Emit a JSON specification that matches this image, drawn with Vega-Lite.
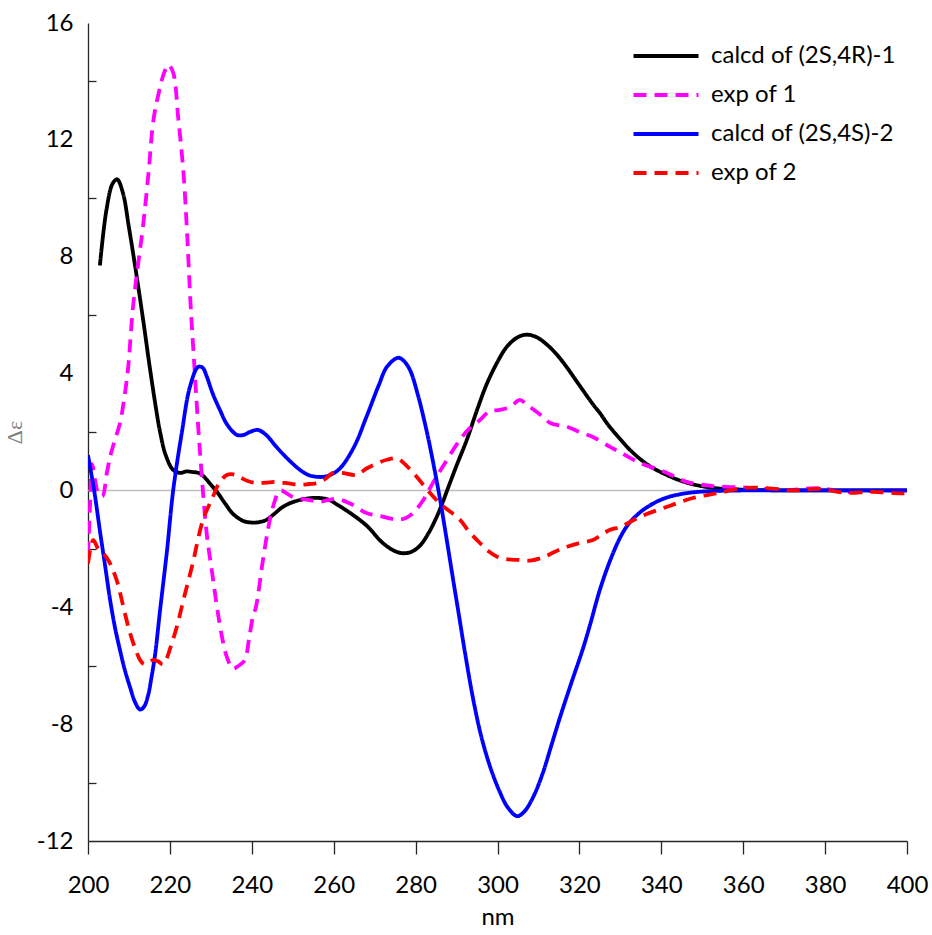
{
  "$schema": "https://vega.github.io/schema/vega-lite/v6.json",
  "width": 819,
  "height": 818,
  "autosize": {"type": "none"},
  "padding": {"left": 88, "top": 23, "right": 25, "bottom": 94},
  "background": "white",
  "config": {"view": {"stroke": null}, "font": "Lato"},
  "datasets": {
    "cd": [
      {"s": "calcd of (2S,4R)-1", "x": 202.9, "y": 7.7},
      {"s": "calcd of (2S,4R)-1", "x": 204.5, "y": 9.6},
      {"s": "calcd of (2S,4R)-1", "x": 206, "y": 10.5},
      {"s": "calcd of (2S,4R)-1", "x": 207.1, "y": 10.65},
      {"s": "calcd of (2S,4R)-1", "x": 208.5, "y": 10.2},
      {"s": "calcd of (2S,4R)-1", "x": 210, "y": 9.0},
      {"s": "calcd of (2S,4R)-1", "x": 211.7, "y": 7.5},
      {"s": "calcd of (2S,4R)-1", "x": 213.4, "y": 5.9},
      {"s": "calcd of (2S,4R)-1", "x": 215.1, "y": 4.2},
      {"s": "calcd of (2S,4R)-1", "x": 216.5, "y": 2.9},
      {"s": "calcd of (2S,4R)-1", "x": 217.6, "y": 2.0},
      {"s": "calcd of (2S,4R)-1", "x": 219, "y": 1.2},
      {"s": "calcd of (2S,4R)-1", "x": 220.8, "y": 0.7},
      {"s": "calcd of (2S,4R)-1", "x": 222.5, "y": 0.6},
      {"s": "calcd of (2S,4R)-1", "x": 224, "y": 0.65},
      {"s": "calcd of (2S,4R)-1", "x": 225.6, "y": 0.63},
      {"s": "calcd of (2S,4R)-1", "x": 227, "y": 0.6},
      {"s": "calcd of (2S,4R)-1", "x": 228.1, "y": 0.5},
      {"s": "calcd of (2S,4R)-1", "x": 230, "y": 0.2},
      {"s": "calcd of (2S,4R)-1", "x": 231.5, "y": -0.05},
      {"s": "calcd of (2S,4R)-1", "x": 233.5, "y": -0.45},
      {"s": "calcd of (2S,4R)-1", "x": 235.4, "y": -0.8},
      {"s": "calcd of (2S,4R)-1", "x": 238, "y": -1.05},
      {"s": "calcd of (2S,4R)-1", "x": 240.3, "y": -1.1},
      {"s": "calcd of (2S,4R)-1", "x": 242, "y": -1.08},
      {"s": "calcd of (2S,4R)-1", "x": 243.7, "y": -1.0},
      {"s": "calcd of (2S,4R)-1", "x": 245.5, "y": -0.8},
      {"s": "calcd of (2S,4R)-1", "x": 247.6, "y": -0.56},
      {"s": "calcd of (2S,4R)-1", "x": 250, "y": -0.4},
      {"s": "calcd of (2S,4R)-1", "x": 252, "y": -0.32},
      {"s": "calcd of (2S,4R)-1", "x": 254.5, "y": -0.26},
      {"s": "calcd of (2S,4R)-1", "x": 256.7, "y": -0.26},
      {"s": "calcd of (2S,4R)-1", "x": 259, "y": -0.33},
      {"s": "calcd of (2S,4R)-1", "x": 261, "y": -0.5},
      {"s": "calcd of (2S,4R)-1", "x": 264, "y": -0.77},
      {"s": "calcd of (2S,4R)-1", "x": 268, "y": -1.2},
      {"s": "calcd of (2S,4R)-1", "x": 272, "y": -1.8},
      {"s": "calcd of (2S,4R)-1", "x": 275, "y": -2.08},
      {"s": "calcd of (2S,4R)-1", "x": 277, "y": -2.15},
      {"s": "calcd of (2S,4R)-1", "x": 279, "y": -2.1},
      {"s": "calcd of (2S,4R)-1", "x": 281, "y": -1.9},
      {"s": "calcd of (2S,4R)-1", "x": 283, "y": -1.5},
      {"s": "calcd of (2S,4R)-1", "x": 285, "y": -0.95},
      {"s": "calcd of (2S,4R)-1", "x": 286.5, "y": -0.45},
      {"s": "calcd of (2S,4R)-1", "x": 287.7, "y": 0.0},
      {"s": "calcd of (2S,4R)-1", "x": 290, "y": 0.85},
      {"s": "calcd of (2S,4R)-1", "x": 292.5, "y": 1.73},
      {"s": "calcd of (2S,4R)-1", "x": 295, "y": 2.75},
      {"s": "calcd of (2S,4R)-1", "x": 297.4, "y": 3.65},
      {"s": "calcd of (2S,4R)-1", "x": 300, "y": 4.4},
      {"s": "calcd of (2S,4R)-1", "x": 302.3, "y": 4.92},
      {"s": "calcd of (2S,4R)-1", "x": 305, "y": 5.25},
      {"s": "calcd of (2S,4R)-1", "x": 307.2, "y": 5.33},
      {"s": "calcd of (2S,4R)-1", "x": 309.5, "y": 5.25},
      {"s": "calcd of (2S,4R)-1", "x": 312, "y": 5.0},
      {"s": "calcd of (2S,4R)-1", "x": 314.5, "y": 4.65},
      {"s": "calcd of (2S,4R)-1", "x": 317, "y": 4.2},
      {"s": "calcd of (2S,4R)-1", "x": 320, "y": 3.6},
      {"s": "calcd of (2S,4R)-1", "x": 323.3, "y": 2.95},
      {"s": "calcd of (2S,4R)-1", "x": 325, "y": 2.65},
      {"s": "calcd of (2S,4R)-1", "x": 327, "y": 2.25},
      {"s": "calcd of (2S,4R)-1", "x": 330, "y": 1.75},
      {"s": "calcd of (2S,4R)-1", "x": 333, "y": 1.3},
      {"s": "calcd of (2S,4R)-1", "x": 337, "y": 0.85},
      {"s": "calcd of (2S,4R)-1", "x": 341, "y": 0.55},
      {"s": "calcd of (2S,4R)-1", "x": 345, "y": 0.32},
      {"s": "calcd of (2S,4R)-1", "x": 349, "y": 0.17},
      {"s": "calcd of (2S,4R)-1", "x": 353, "y": 0.08},
      {"s": "calcd of (2S,4R)-1", "x": 357.5, "y": 0.04},
      {"s": "calcd of (2S,4R)-1", "x": 365, "y": 0.01},
      {"s": "calcd of (2S,4R)-1", "x": 380, "y": 0},
      {"s": "calcd of (2S,4R)-1", "x": 395, "y": 0},
      {"s": "calcd of (2S,4R)-1", "x": 403, "y": 0},

      {"s": "exp of 1", "x": 200, "y": -2.2},
      {"s": "exp of 1", "x": 200.5, "y": -0.5},
      {"s": "exp of 1", "x": 201, "y": 0.9},
      {"s": "exp of 1", "x": 201.8, "y": 0.3},
      {"s": "exp of 1", "x": 202.5, "y": -0.1},
      {"s": "exp of 1", "x": 203.5, "y": -0.2},
      {"s": "exp of 1", "x": 204.6, "y": 0.6},
      {"s": "exp of 1", "x": 205.5, "y": 1.2},
      {"s": "exp of 1", "x": 206.5, "y": 1.7},
      {"s": "exp of 1", "x": 207.8, "y": 2.3},
      {"s": "exp of 1", "x": 209, "y": 3.3},
      {"s": "exp of 1", "x": 209.8, "y": 4.2},
      {"s": "exp of 1", "x": 211, "y": 6.3},
      {"s": "exp of 1", "x": 212.2, "y": 7.7},
      {"s": "exp of 1", "x": 213.4, "y": 9.0},
      {"s": "exp of 1", "x": 214.8, "y": 10.9},
      {"s": "exp of 1", "x": 216, "y": 12.7},
      {"s": "exp of 1", "x": 217.6, "y": 13.8},
      {"s": "exp of 1", "x": 218.6, "y": 14.3},
      {"s": "exp of 1", "x": 219.6, "y": 14.57},
      {"s": "exp of 1", "x": 220.8, "y": 14.3},
      {"s": "exp of 1", "x": 222, "y": 12.8},
      {"s": "exp of 1", "x": 223.3, "y": 10.9},
      {"s": "exp of 1", "x": 224.2, "y": 8.8},
      {"s": "exp of 1", "x": 225, "y": 6.5},
      {"s": "exp of 1", "x": 226, "y": 4.2},
      {"s": "exp of 1", "x": 227.3, "y": 1.4},
      {"s": "exp of 1", "x": 229, "y": -1.5},
      {"s": "exp of 1", "x": 230.3, "y": -2.8},
      {"s": "exp of 1", "x": 231.5, "y": -4.0},
      {"s": "exp of 1", "x": 232.7, "y": -5.0},
      {"s": "exp of 1", "x": 233.9, "y": -5.7},
      {"s": "exp of 1", "x": 235.4, "y": -6.1},
      {"s": "exp of 1", "x": 236.8, "y": -6.0},
      {"s": "exp of 1", "x": 238.3, "y": -5.8},
      {"s": "exp of 1", "x": 239.3, "y": -5.1},
      {"s": "exp of 1", "x": 240.3, "y": -4.3},
      {"s": "exp of 1", "x": 241, "y": -4.0},
      {"s": "exp of 1", "x": 242.7, "y": -2.4},
      {"s": "exp of 1", "x": 244, "y": -1.3},
      {"s": "exp of 1", "x": 245.2, "y": -0.55},
      {"s": "exp of 1", "x": 246.9, "y": 0.0},
      {"s": "exp of 1", "x": 248.5, "y": -0.1},
      {"s": "exp of 1", "x": 250, "y": -0.22},
      {"s": "exp of 1", "x": 254.2, "y": -0.33},
      {"s": "exp of 1", "x": 256.7, "y": -0.39},
      {"s": "exp of 1", "x": 258, "y": -0.35},
      {"s": "exp of 1", "x": 261, "y": -0.3},
      {"s": "exp of 1", "x": 264, "y": -0.45},
      {"s": "exp of 1", "x": 268, "y": -0.77},
      {"s": "exp of 1", "x": 272, "y": -0.9},
      {"s": "exp of 1", "x": 275.5, "y": -1.0},
      {"s": "exp of 1", "x": 277.5, "y": -0.95},
      {"s": "exp of 1", "x": 279.4, "y": -0.77},
      {"s": "exp of 1", "x": 282, "y": -0.3},
      {"s": "exp of 1", "x": 284.2, "y": 0.25},
      {"s": "exp of 1", "x": 287, "y": 0.9},
      {"s": "exp of 1", "x": 290.8, "y": 1.73},
      {"s": "exp of 1", "x": 293, "y": 2.1},
      {"s": "exp of 1", "x": 295.7, "y": 2.41},
      {"s": "exp of 1", "x": 298, "y": 2.7},
      {"s": "exp of 1", "x": 300.6, "y": 2.76},
      {"s": "exp of 1", "x": 303, "y": 2.85},
      {"s": "exp of 1", "x": 305.5, "y": 3.1},
      {"s": "exp of 1", "x": 307, "y": 2.95},
      {"s": "exp of 1", "x": 310.4, "y": 2.6},
      {"s": "exp of 1", "x": 313, "y": 2.3},
      {"s": "exp of 1", "x": 317, "y": 2.18},
      {"s": "exp of 1", "x": 320, "y": 2.0},
      {"s": "exp of 1", "x": 323.3, "y": 1.83},
      {"s": "exp of 1", "x": 327.5, "y": 1.49},
      {"s": "exp of 1", "x": 330, "y": 1.3},
      {"s": "exp of 1", "x": 334.8, "y": 0.94},
      {"s": "exp of 1", "x": 341.4, "y": 0.6},
      {"s": "exp of 1", "x": 346, "y": 0.3},
      {"s": "exp of 1", "x": 352.6, "y": 0.15},
      {"s": "exp of 1", "x": 360, "y": 0.1},
      {"s": "exp of 1", "x": 365.8, "y": 0.05},
      {"s": "exp of 1", "x": 372, "y": 0.02},
      {"s": "exp of 1", "x": 378, "y": 0.08},
      {"s": "exp of 1", "x": 385, "y": -0.05},
      {"s": "exp of 1", "x": 392, "y": -0.02},
      {"s": "exp of 1", "x": 400, "y": 0.0},

      {"s": "calcd of (2S,4S)-2", "x": 200, "y": 1.2},
      {"s": "calcd of (2S,4S)-2", "x": 201.5, "y": 0.0},
      {"s": "calcd of (2S,4S)-2", "x": 203, "y": -1.47},
      {"s": "calcd of (2S,4S)-2", "x": 204.2, "y": -2.6},
      {"s": "calcd of (2S,4S)-2", "x": 205.4, "y": -3.75},
      {"s": "calcd of (2S,4S)-2", "x": 206.6, "y": -4.7},
      {"s": "calcd of (2S,4S)-2", "x": 207.8, "y": -5.46},
      {"s": "calcd of (2S,4S)-2", "x": 209, "y": -6.15},
      {"s": "calcd of (2S,4S)-2", "x": 210.3, "y": -6.75},
      {"s": "calcd of (2S,4S)-2", "x": 211.5, "y": -7.25},
      {"s": "calcd of (2S,4S)-2", "x": 212.7, "y": -7.5},
      {"s": "calcd of (2S,4S)-2", "x": 213.7, "y": -7.4},
      {"s": "calcd of (2S,4S)-2", "x": 214.7, "y": -7.0},
      {"s": "calcd of (2S,4S)-2", "x": 215.5, "y": -6.4},
      {"s": "calcd of (2S,4S)-2", "x": 216.4, "y": -5.6},
      {"s": "calcd of (2S,4S)-2", "x": 217.6, "y": -4.1},
      {"s": "calcd of (2S,4S)-2", "x": 219.3, "y": -2.05},
      {"s": "calcd of (2S,4S)-2", "x": 220.8, "y": 0.0},
      {"s": "calcd of (2S,4S)-2", "x": 222.9, "y": 1.97},
      {"s": "calcd of (2S,4S)-2", "x": 224.9, "y": 3.55},
      {"s": "calcd of (2S,4S)-2", "x": 226.9, "y": 4.23},
      {"s": "calcd of (2S,4S)-2", "x": 228, "y": 4.2},
      {"s": "calcd of (2S,4S)-2", "x": 229, "y": 3.9},
      {"s": "calcd of (2S,4S)-2", "x": 230.5, "y": 3.3},
      {"s": "calcd of (2S,4S)-2", "x": 232.2, "y": 2.76},
      {"s": "calcd of (2S,4S)-2", "x": 234, "y": 2.25},
      {"s": "calcd of (2S,4S)-2", "x": 236.4, "y": 1.9},
      {"s": "calcd of (2S,4S)-2", "x": 238, "y": 1.9},
      {"s": "calcd of (2S,4S)-2", "x": 239.5, "y": 2.0},
      {"s": "calcd of (2S,4S)-2", "x": 241.5, "y": 2.07},
      {"s": "calcd of (2S,4S)-2", "x": 243.5, "y": 1.9},
      {"s": "calcd of (2S,4S)-2", "x": 246, "y": 1.49},
      {"s": "calcd of (2S,4S)-2", "x": 249, "y": 1.05},
      {"s": "calcd of (2S,4S)-2", "x": 251.8, "y": 0.7},
      {"s": "calcd of (2S,4S)-2", "x": 254, "y": 0.52},
      {"s": "calcd of (2S,4S)-2", "x": 256.7, "y": 0.46},
      {"s": "calcd of (2S,4S)-2", "x": 259, "y": 0.52},
      {"s": "calcd of (2S,4S)-2", "x": 261.5, "y": 0.75},
      {"s": "calcd of (2S,4S)-2", "x": 265, "y": 1.5},
      {"s": "calcd of (2S,4S)-2", "x": 268, "y": 2.52},
      {"s": "calcd of (2S,4S)-2", "x": 271, "y": 3.6},
      {"s": "calcd of (2S,4S)-2", "x": 273, "y": 4.23},
      {"s": "calcd of (2S,4S)-2", "x": 275.7, "y": 4.54},
      {"s": "calcd of (2S,4S)-2", "x": 277, "y": 4.45},
      {"s": "calcd of (2S,4S)-2", "x": 278.6, "y": 4.13},
      {"s": "calcd of (2S,4S)-2", "x": 280.5, "y": 3.3},
      {"s": "calcd of (2S,4S)-2", "x": 282.8, "y": 1.97},
      {"s": "calcd of (2S,4S)-2", "x": 284.5, "y": 0.8},
      {"s": "calcd of (2S,4S)-2", "x": 286, "y": -0.33},
      {"s": "calcd of (2S,4S)-2", "x": 287.5, "y": -1.6},
      {"s": "calcd of (2S,4S)-2", "x": 289.1, "y": -3.0},
      {"s": "calcd of (2S,4S)-2", "x": 290.5, "y": -4.2},
      {"s": "calcd of (2S,4S)-2", "x": 292, "y": -5.5},
      {"s": "calcd of (2S,4S)-2", "x": 294, "y": -7.1},
      {"s": "calcd of (2S,4S)-2", "x": 296, "y": -8.4},
      {"s": "calcd of (2S,4S)-2", "x": 298.2, "y": -9.46},
      {"s": "calcd of (2S,4S)-2", "x": 300.5, "y": -10.3},
      {"s": "calcd of (2S,4S)-2", "x": 302.5, "y": -10.85},
      {"s": "calcd of (2S,4S)-2", "x": 304.8, "y": -11.15},
      {"s": "calcd of (2S,4S)-2", "x": 306.5, "y": -11.0},
      {"s": "calcd of (2S,4S)-2", "x": 308.7, "y": -10.5},
      {"s": "calcd of (2S,4S)-2", "x": 311, "y": -9.7},
      {"s": "calcd of (2S,4S)-2", "x": 313, "y": -8.8},
      {"s": "calcd of (2S,4S)-2", "x": 315.3, "y": -7.75},
      {"s": "calcd of (2S,4S)-2", "x": 318, "y": -6.6},
      {"s": "calcd of (2S,4S)-2", "x": 320.9, "y": -5.4},
      {"s": "calcd of (2S,4S)-2", "x": 322.6, "y": -4.6},
      {"s": "calcd of (2S,4S)-2", "x": 325, "y": -3.4},
      {"s": "calcd of (2S,4S)-2", "x": 327.5, "y": -2.4},
      {"s": "calcd of (2S,4S)-2", "x": 330, "y": -1.6},
      {"s": "calcd of (2S,4S)-2", "x": 332, "y": -1.15},
      {"s": "calcd of (2S,4S)-2", "x": 334.8, "y": -0.75},
      {"s": "calcd of (2S,4S)-2", "x": 338, "y": -0.45},
      {"s": "calcd of (2S,4S)-2", "x": 341, "y": -0.26},
      {"s": "calcd of (2S,4S)-2", "x": 345, "y": -0.12},
      {"s": "calcd of (2S,4S)-2", "x": 349, "y": -0.05},
      {"s": "calcd of (2S,4S)-2", "x": 355, "y": -0.01},
      {"s": "calcd of (2S,4S)-2", "x": 370, "y": 0},
      {"s": "calcd of (2S,4S)-2", "x": 385, "y": 0},
      {"s": "calcd of (2S,4S)-2", "x": 400, "y": 0},

      {"s": "exp of 2", "x": 200, "y": -2.5},
      {"s": "exp of 2", "x": 200.6, "y": -2.0},
      {"s": "exp of 2", "x": 201.3, "y": -1.7},
      {"s": "exp of 2", "x": 202.5, "y": -2.0},
      {"s": "exp of 2", "x": 203.7, "y": -2.15},
      {"s": "exp of 2", "x": 205, "y": -2.4},
      {"s": "exp of 2", "x": 206, "y": -2.7},
      {"s": "exp of 2", "x": 207, "y": -3.07},
      {"s": "exp of 2", "x": 208, "y": -3.6},
      {"s": "exp of 2", "x": 209, "y": -4.2},
      {"s": "exp of 2", "x": 210.3, "y": -4.9},
      {"s": "exp of 2", "x": 211.5, "y": -5.4},
      {"s": "exp of 2", "x": 212.7, "y": -5.8},
      {"s": "exp of 2", "x": 213.7, "y": -5.95},
      {"s": "exp of 2", "x": 214.7, "y": -5.9},
      {"s": "exp of 2", "x": 216, "y": -5.8},
      {"s": "exp of 2", "x": 217.1, "y": -5.85},
      {"s": "exp of 2", "x": 218.3, "y": -5.95},
      {"s": "exp of 2", "x": 219.2, "y": -5.75},
      {"s": "exp of 2", "x": 220.3, "y": -5.3},
      {"s": "exp of 2", "x": 221.7, "y": -4.67},
      {"s": "exp of 2", "x": 223.3, "y": -3.75},
      {"s": "exp of 2", "x": 225.4, "y": -2.6},
      {"s": "exp of 2", "x": 228.1, "y": -1.0},
      {"s": "exp of 2", "x": 230.5, "y": -0.22},
      {"s": "exp of 2", "x": 232, "y": 0.25},
      {"s": "exp of 2", "x": 233.9, "y": 0.53},
      {"s": "exp of 2", "x": 235.5, "y": 0.55},
      {"s": "exp of 2", "x": 237, "y": 0.46},
      {"s": "exp of 2", "x": 239, "y": 0.32},
      {"s": "exp of 2", "x": 241.2, "y": 0.25},
      {"s": "exp of 2", "x": 243.5, "y": 0.27},
      {"s": "exp of 2", "x": 246, "y": 0.29},
      {"s": "exp of 2", "x": 249, "y": 0.24},
      {"s": "exp of 2", "x": 251.8, "y": 0.19},
      {"s": "exp of 2", "x": 254, "y": 0.22},
      {"s": "exp of 2", "x": 256, "y": 0.25},
      {"s": "exp of 2", "x": 258, "y": 0.4},
      {"s": "exp of 2", "x": 259.8, "y": 0.6},
      {"s": "exp of 2", "x": 262, "y": 0.6},
      {"s": "exp of 2", "x": 265.7, "y": 0.53},
      {"s": "exp of 2", "x": 268, "y": 0.75},
      {"s": "exp of 2", "x": 271.3, "y": 0.97},
      {"s": "exp of 2", "x": 273, "y": 1.05},
      {"s": "exp of 2", "x": 275.5, "y": 1.1},
      {"s": "exp of 2", "x": 277, "y": 0.95},
      {"s": "exp of 2", "x": 280.3, "y": 0.46},
      {"s": "exp of 2", "x": 283, "y": 0.0},
      {"s": "exp of 2", "x": 286, "y": -0.45},
      {"s": "exp of 2", "x": 290.8, "y": -1.0},
      {"s": "exp of 2", "x": 293, "y": -1.4},
      {"s": "exp of 2", "x": 295.7, "y": -1.8},
      {"s": "exp of 2", "x": 298, "y": -2.1},
      {"s": "exp of 2", "x": 299.9, "y": -2.27},
      {"s": "exp of 2", "x": 302, "y": -2.35},
      {"s": "exp of 2", "x": 305.5, "y": -2.38},
      {"s": "exp of 2", "x": 308, "y": -2.4},
      {"s": "exp of 2", "x": 311, "y": -2.3},
      {"s": "exp of 2", "x": 314, "y": -2.1},
      {"s": "exp of 2", "x": 317, "y": -1.93},
      {"s": "exp of 2", "x": 320, "y": -1.8},
      {"s": "exp of 2", "x": 323.3, "y": -1.7},
      {"s": "exp of 2", "x": 325, "y": -1.55},
      {"s": "exp of 2", "x": 327.5, "y": -1.35},
      {"s": "exp of 2", "x": 330, "y": -1.25},
      {"s": "exp of 2", "x": 334.8, "y": -0.9},
      {"s": "exp of 2", "x": 341.4, "y": -0.56},
      {"s": "exp of 2", "x": 347.7, "y": -0.26},
      {"s": "exp of 2", "x": 353.6, "y": -0.1},
      {"s": "exp of 2", "x": 360, "y": 0.08},
      {"s": "exp of 2", "x": 365.8, "y": 0.08},
      {"s": "exp of 2", "x": 372, "y": 0.0},
      {"s": "exp of 2", "x": 378.7, "y": 0.05},
      {"s": "exp of 2", "x": 385, "y": -0.08},
      {"s": "exp of 2", "x": 391.7, "y": -0.05},
      {"s": "exp of 2", "x": 398.3, "y": -0.1},
      {"s": "exp of 2", "x": 400, "y": -0.1}
    ],
    "zero": [{"z": 0}]
  },
  "layer": [
    {
      "data": {"name": "zero"},
      "mark": {"type": "rule", "color": "#bfbfbf", "strokeWidth": 1.5},
      "encoding": {"y": {"field": "z", "type": "quantitative", "title": "Δε"}}
    },
    {
      "data": {"name": "cd"},
      "mark": {"type": "line", "interpolate": "catmull-rom", "strokeWidth": 3.8, "strokeCap": "butt", "clip": true},
      "encoding": {
        "x": {
          "field": "x", "type": "quantitative",
          "scale": {"domain": [200, 400], "nice": false, "zero": false},
          "axis": {
            "values": [200, 220, 240, 260, 280, 300, 320, 340, 360, 380, 400],
            "title": "nm", "grid": false, "labelFlush": false,
            "tickSize": 13, "tickWidth": 1.3, "tickColor": "#262626",
            "domainColor": "#262626", "domainWidth": 1.3,
            "labelFont": "Lato", "labelFontSize": 24, "labelColor": "#000000", "labelPadding": 19,
            "titleFont": "Lato", "titleFontSize": 24, "titleFontWeight": "normal", "titleColor": "#000000", "titlePadding": 8
          }
        },
        "y": {
          "field": "y", "type": "quantitative",
          "scale": {"domain": [-12, 16], "nice": false, "zero": false},
          "axis": {
            "values": [-12, -10, -8, -6, -4, -2, 0, 2, 4, 6, 8, 10, 12, 14, 16],
            "labelExpr": "datum.value % 4 === 0 ? toString(datum.value) : ''",
            "title": "Δε", "grid": false,
            "tickSize": -8, "tickWidth": 1.3, "tickColor": "#262626",
            "tickOpacity": {"condition": {"test": "datum.value % 4 === 0", "value": 0}, "value": 1},
            "domainColor": "#262626", "domainWidth": 1.3,
            "labelFont": "Lato", "labelFontSize": 24, "labelColor": "#000000", "labelPadding": 23,
            "titleFont": "Liberation Serif", "titleFontSize": 22, "titleFontWeight": "normal", "titleColor": "#808080", "titlePadding": 10
          }
        },
        "color": {
          "field": "s", "type": "nominal",
          "scale": {
            "domain": ["calcd of (2S,4R)-1", "exp of 1", "calcd of (2S,4S)-2", "exp of 2"],
            "range": ["#000000", "#ff00ff", "#0000ff", "#ff0000"]
          },
          "legend": {
            "orient": "none", "legendX": 563, "legendY": 18, "title": null,
            "symbolType": "M-2.5,0H2.5", "symbolSize": 676, "symbolStrokeWidth": 4, "symbolFillColor": "transparent",
            "labelFont": "Lato", "labelFontSize": 24, "labelColor": "#000000", "labelLimit": 0,
            "rowPadding": 12, "labelOffset": 30
          }
        },
        "strokeDash": {
          "field": "s", "type": "nominal",
          "scale": {
            "domain": ["calcd of (2S,4R)-1", "exp of 1", "calcd of (2S,4S)-2", "exp of 2"],
            "range": [[1, 0], [13, 8], [1, 0], [13, 8]]
          },
          "legend": {
            "orient": "none", "legendX": 563, "legendY": 18, "title": null,
            "symbolType": "M-2.5,0H2.5", "symbolSize": 676, "symbolStrokeWidth": 4, "symbolFillColor": "transparent",
            "labelFont": "Lato", "labelFontSize": 24, "labelColor": "#000000", "labelLimit": 0,
            "rowPadding": 12, "labelOffset": 30
          }
        }
      }
    }
  ]
}
